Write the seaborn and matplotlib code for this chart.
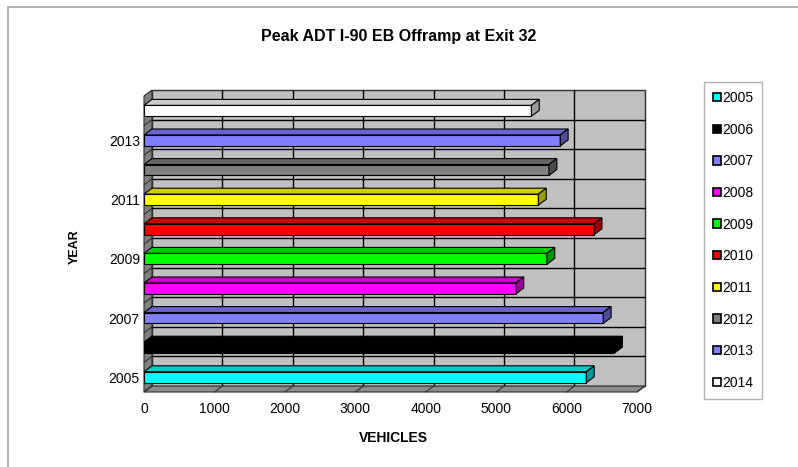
import numpy as np
import pandas as pd
import seaborn as sns
import matplotlib
matplotlib.use('Agg')
import matplotlib.pyplot as plt
import matplotlib.colors as mcolors
from matplotlib.patches import Polygon, Rectangle, Patch

# data
years = ['2005', '2006', '2007', '2008', '2009', '2010', '2011', '2012', '2013', '2014']
vehicles = [6280, 6680, 6520, 5280, 5720, 6390, 5600, 5750, 5910, 5500]
colors = ['#00FFFF', '#000000', '#8080FF', '#FF00FF', '#00FF00',
          '#FF0000', '#FFFF00', '#808080', '#8080FF', '#FFFFFF']
x_ticks = [0, 1000, 2000, 3000, 4000, 5000, 6000, 7000]

sns.set_style('white')
plt.rcParams['font.family'] = ['Liberation Sans', 'DejaVu Sans']
plt.rcParams.update({'text.color': 'black', 'axes.labelcolor': 'black',
                     'xtick.color': 'black', 'ytick.color': 'black'})

W, H = 798, 467
fig = plt.figure(figsize=(W / 100, H / 100), dpi=100)
ax = fig.add_axes([144 / W, (H - 392) / H, (637 - 144) / W, (392 - 96) / H])

df = pd.DataFrame({'Year': years, 'Vehicles': vehicles})
sns.barplot(data=df, x='Vehicles', y='Year', hue='Year', order=years,
            hue_order=years, palette=colors, saturation=1, orient='h', width=0.37,
            edgecolor='black', linewidth=0.8, legend=False, ax=ax, zorder=3)

ax.set_xlim(x_ticks[0], x_ticks[-1])
ax.set_ylim(-0.5, len(years) - 0.5)

# depth of the fake 3d box, in data units
DX = 112
DY = 0.2
x0, x1 = x_ticks[0], x_ticks[-1]
y0, y1 = -0.5, len(years) - 0.5


def shade(c, f):
    return tuple(np.array(mcolors.to_rgb(c)) * f)


# back wall, left wall and floor
ax.add_patch(Rectangle((x0 + DX, y0 + DY), x1 - x0, y1 - y0, fc='#C0C0C0',
                       ec='#303030', lw=1, zorder=0.5, clip_on=False))
for xv in x_ticks[1:-1]:
    ax.plot([xv + DX, xv + DX], [y0 + DY, y1 + DY], color='black', lw=1,
            zorder=0.6, clip_on=False)
for k in np.arange(y0 + 1, y1, 1):
    ax.plot([x0 + DX, x1 + DX], [k + DY, k + DY], color='black', lw=1,
            zorder=0.6, clip_on=False)
ax.add_patch(Polygon([(x0, y0), (x0 + DX, y0 + DY), (x0 + DX, y1 + DY), (x0, y1)],
                     fc='#808080', ec='#303030', lw=0.8, zorder=0.7, clip_on=False))
for k in np.arange(y0 + 1, y1, 1):
    ax.plot([x0, x0 + DX], [k, k + DY], color='#303030', lw=0.8,
            zorder=0.75, clip_on=False)
ax.add_patch(Polygon([(x0, y0), (x1, y0), (x1 + DX, y0 + DY), (x0 + DX, y0 + DY)],
                     fc='#8c8c8c', ec='#303030', lw=0.8, zorder=0.7, clip_on=False))
for xv in x_ticks:
    ax.plot([xv, xv + DX], [y0, y0 + DY], color='#303030', lw=0.8,
            zorder=0.75, clip_on=False)

# top and end faces for each bar
for p in list(ax.patches):
    if p.get_zorder() != 3:
        continue
    bx, by, bw, bh = p.get_x(), p.get_y(), p.get_width(), p.get_height()
    c = p.get_facecolor()
    top = Polygon([(bx, by + bh), (bx + bw, by + bh), (bx + bw + DX, by + bh + DY),
                   (bx + DX, by + bh + DY)], fc=shade(c, 0.8), ec='black', lw=0.8,
                  zorder=3, clip_on=False)
    side = Polygon([(bx + bw, by), (bx + bw + DX, by + DY), (bx + bw + DX, by + bh + DY),
                    (bx + bw, by + bh)], fc=shade(c, 0.6), ec='black', lw=0.8,
                   zorder=3, clip_on=False)
    ax.add_patch(top)
    ax.add_patch(side)

for s in ax.spines.values():
    s.set_visible(False)
ax.set_facecolor('none')
ax.set_xlabel('')
ax.set_ylabel('')
ax.set_xticks(x_ticks)
ax.set_yticks(range(0, len(years), 2), years[::2])
ax.set_yticks(np.arange(y0, y1 + 0.5, 1), minor=True)
ax.tick_params(axis='x', length=0, pad=7, labelsize=10)
ax.tick_params(axis='y', which='major', length=0, pad=3, labelsize=10)
ax.tick_params(axis='y', which='minor', length=3, width=0.8, color='#303030')

fig.text(399 / W, 1 - 36 / H, 'Peak ADT I-90 EB Offramp at Exit 32',
         ha='center', va='center', fontsize=11.5, fontweight='bold')
fig.text(393 / W, 1 - 438 / H, 'VEHICLES', ha='center', va='center',
         fontsize=10, fontweight='bold')
fig.text(75 / W, 1 - 247 / H, 'YEAR', ha='center', va='center',
         fontsize=9, fontweight='bold', rotation=90)

handles = [Patch(facecolor=c, edgecolor='black', lw=1.2) for c in colors]
fig.legend(handles, years, loc='upper left', bbox_to_anchor=(704 / W, 1 - 82 / H),
           frameon=True, fancybox=False, edgecolor='#a0a0a0', fontsize=10,
           handlelength=0.55, handleheight=0.55, handletextpad=0.1,
           labelspacing=1.27, borderpad=0.65, borderaxespad=0)

# chart area border (only left and top edges fall inside the image)
fig.patches.append(Rectangle((8 / W, -0.1), 1.2, 1.1 - 7 / H, transform=fig.transFigure,
                             fill=False, ec='#a6a6a6', lw=1.2))

fig.savefig('out.png', dpi=100)
